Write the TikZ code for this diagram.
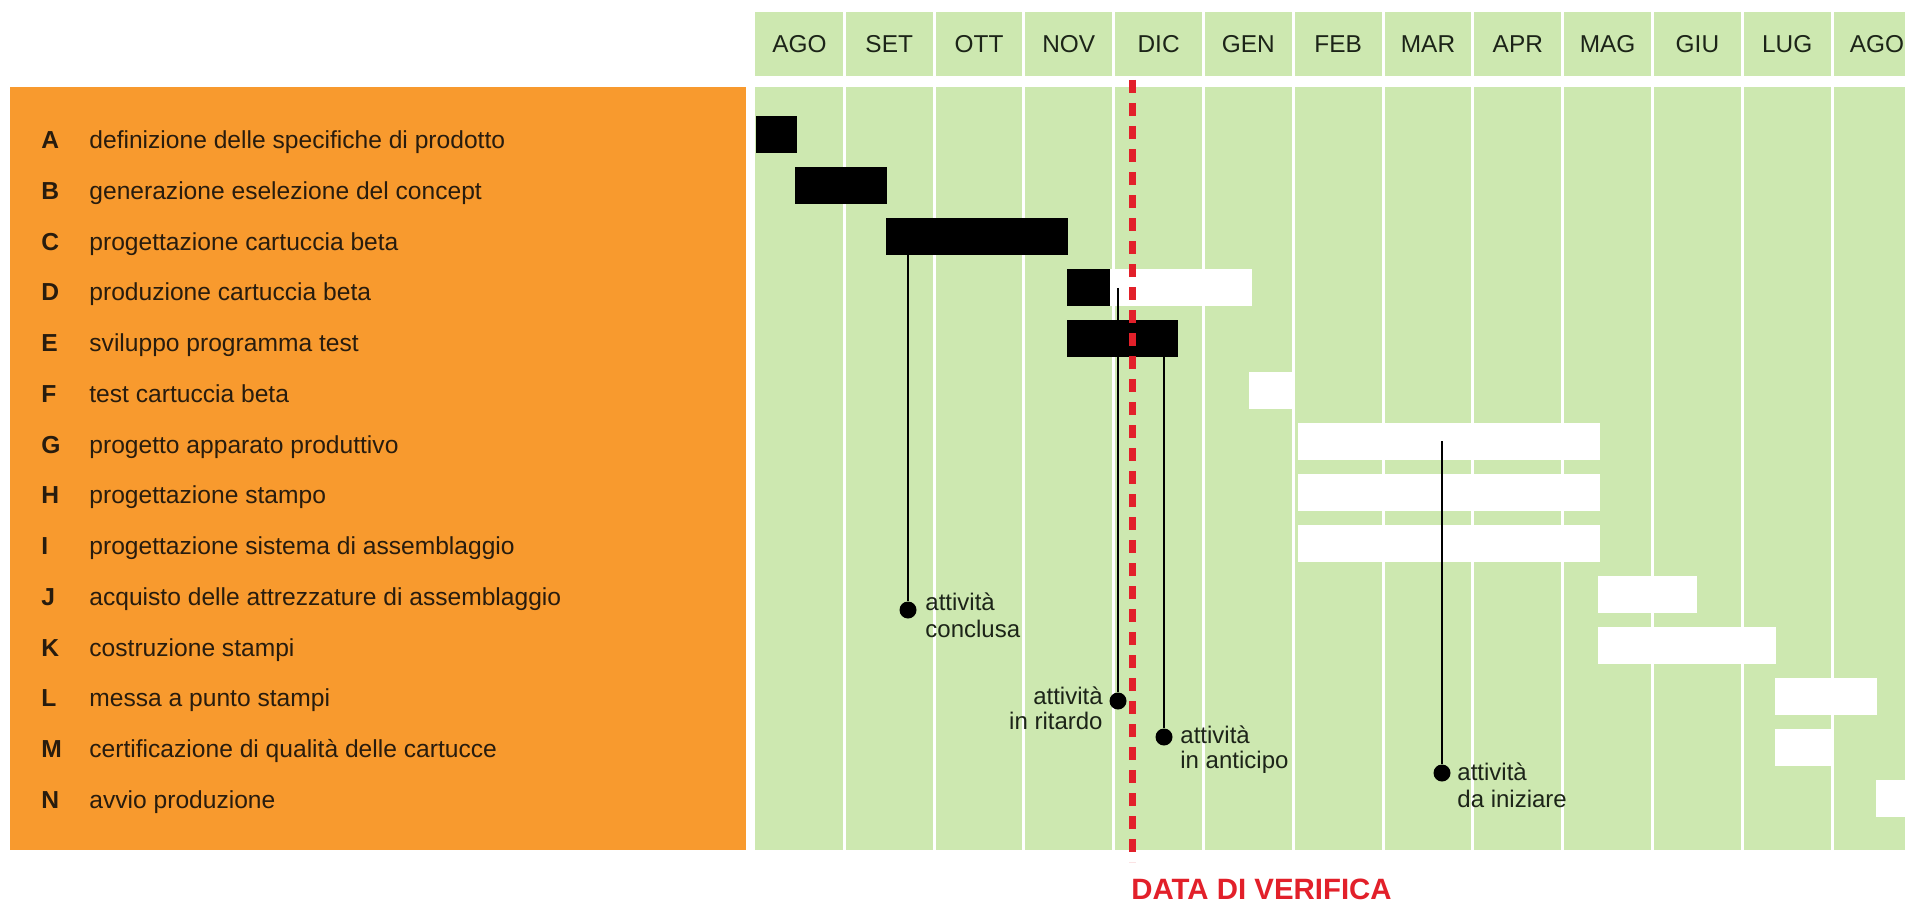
\documentclass[tikz,border=0pt]{standalone}
\usepackage{fontspec}
\setmainfont{Liberation Sans}
\definecolor{planbg}{RGB}{205,232,176}
\definecolor{panel}{RGB}{248,154,46}
\definecolor{inktext}{RGB}{40,28,14}
\definecolor{monthtext}{RGB}{28,36,24}
\definecolor{checkred}{RGB}{226,32,42}
% one unit = one pixel of a 1905 x 904 page, y grows downwards
\newcommand\taskbar[5]{\node[#5, minimum width={(#3-#2)*0.5pt}] (#1) at (#2,#4) {};}
\begin{document}
\begin{tikzpicture}[x=0.5pt,y=-0.5pt,
  donebar/.style={fill=black, draw=none, inner sep=0pt, outer sep=0pt, minimum height=18.5pt, anchor=west},
  todobar/.style={fill=white, draw=none, inner sep=0pt, outer sep=0pt, minimum height=18.5pt, anchor=west},
  monthlabel/.style={font=\fontsize{12.2}{14}\selectfont, text=monthtext, inner sep=0pt},
  tasklabel/.style={font=\fontsize{12.3}{14}\selectfont, text=inktext, inner sep=0pt, anchor=base west},
  taskletter/.style={font=\bfseries\fontsize{12.3}{14}\selectfont, text=inktext, inner sep=0pt, anchor=base west},
  notelabel/.style={font=\fontsize{12}{14}\selectfont, text=monthtext, inner sep=0pt},
  pinline/.style={line width=1.3pt, black},
  pindot/.style={circle, fill=black, draw=none, inner sep=0pt, minimum size=8.5pt},
  sepline/.style={white, line width=1.5pt},
  checkline/.style={checkred, line width=3.5pt, dash pattern=on 6.5pt off 5pt}]
\useasboundingbox (0,0) rectangle (1905,904);

% task list panel
\fill[panel] (10,87) rectangle (746,850);

% calendar header and body
\fill[planbg] (754.5,12) rectangle (1905,76);
\fill[planbg] (754.5,87) rectangle (1905,850);
\foreach \k in {1,...,12}{
  \draw[sepline] ({754.5+\k*89.8},12) -- ({754.5+\k*89.8},76);
  \draw[sepline] ({754.5+\k*89.8},87) -- ({754.5+\k*89.8},850);
}
\foreach \m [count=\i from 0] in {AGO,SET,OTT,NOV,DIC,GEN,FEB,MAR,APR,MAG,GIU,LUG,AGO}
  \node[monthlabel] (month\i) at ({754.5+(\i+0.5)*89.8},44) {\m};

% task names
\foreach \l/\t [count=\i from 0] in {
  A/definizione delle specifiche di prodotto,
  B/generazione eselezione del concept,
  C/progettazione cartuccia beta,
  D/produzione cartuccia beta,
  E/sviluppo programma test,
  F/test cartuccia beta,
  G/progetto apparato produttivo,
  H/progettazione stampo,
  I/progettazione sistema di assemblaggio,
  J/acquisto delle attrezzature di assemblaggio,
  K/costruzione stampi,
  L/messa a punto stampi,
  M/certificazione di qualità delle cartucce,
  N/avvio produzione}{
  \node[taskletter] (key\l) at (41,{148.5+50.75*\i}) {\l};
  \node[tasklabel] (name\l) at (89,{148.5+50.75*\i}) {\t};
}

% activity bars: black = done, white = still to do
\taskbar{barA}{756}{797}{134.5}{donebar}
\taskbar{barB}{795}{887}{185.6}{donebar}
\taskbar{barC}{886}{1068}{236.7}{donebar}
\taskbar{barD}{1067}{1110}{287.8}{donebar}
\taskbar{barDrest}{1110}{1252}{287.8}{todobar}
\taskbar{barE}{1067}{1178}{338.9}{donebar}
\taskbar{barF}{1249}{1293}{390}{todobar}
\taskbar{barG}{1298}{1600}{441.1}{todobar}
\taskbar{barH}{1298}{1600}{492.2}{todobar}
\taskbar{barI}{1298}{1600}{543.3}{todobar}
\taskbar{barJ}{1598}{1697}{594.4}{todobar}
\taskbar{barK}{1598}{1776}{645.5}{todobar}
\taskbar{barL}{1775}{1877}{696.6}{todobar}
\taskbar{barM}{1775}{1832}{747.7}{todobar}
\taskbar{barN}{1876}{1905}{798.8}{todobar}

% check date
\coordinate (checktop) at (1132,80);
\coordinate (checkbot) at (1132,862);
\draw[checkline] (checktop) -- (checkbot);
\node[font=\bfseries\fontsize{14.7}{16}\selectfont, text=checkred, inner sep=0pt, anchor=base west] (checklabel) at (1131,899) {DATA DI VERIFICA};

% legend pins
\node[pindot] (dotC) at (908,610) {};
\node[pindot] (dotD) at (1118,701) {};
\node[pindot] (dotE) at (1164,737) {};
\node[pindot] (dotG) at (1442,773) {};
\draw[pinline] (dotC |- barC.south) -- (dotC);
\draw[pinline] (dotD |- barDrest.center) -- (dotD);
\draw[pinline] (dotE |- barE.south) -- (dotE);
\draw[pinline] (dotG |- barG.center) -- (dotG);

\node[notelabel, anchor=base west] (noteC1) at (925,610) {attività};
\node[notelabel, anchor=base west] (noteC2) at (925,637) {conclusa};
\node[notelabel, anchor=base east] (noteD1) at (1103,704) {attività};
\node[notelabel, anchor=base east] (noteD2) at (1103,729) {in ritardo};
\node[notelabel, anchor=base west] (noteE1) at (1180,743) {attività};
\node[notelabel, anchor=base west] (noteE2) at (1180,768) {in anticipo};
\node[notelabel, anchor=base west] (noteG1) at (1457,780) {attività};
\node[notelabel, anchor=base west] (noteG2) at (1457,807) {da iniziare};
\end{tikzpicture}
\end{document}
